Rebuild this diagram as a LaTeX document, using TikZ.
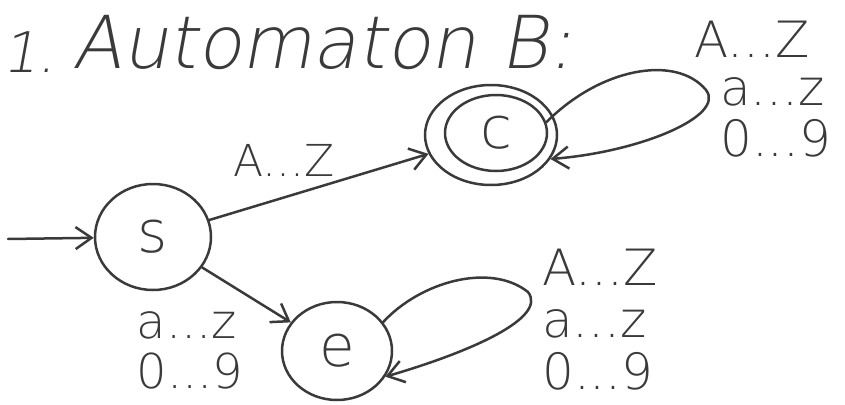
\documentclass[tikz,border=0pt]{standalone}
\usepackage{fontspec}
\newfontfamily\hand{DejaVu Sans ExtraLight}
\newfontfamily\handsl{DejaVu Sans ExtraLight}[FakeSlant=0.18]
\usetikzlibrary{arrows.meta,shapes.geometric}
\definecolor{ink}{HTML}{3A3A3A}
\tikzset{
  pen/.style={draw=ink, line width=2.5pt, line cap=round, line join=round},
  tip/.style={-{Straight Barb[length=16pt,width=22pt,line width=2.5pt]}},
  statenode/.style={pen, ellipse, inner sep=0pt, font=\hand\fontsize{58}{58}\selectfont, text=ink},
  lbl/.style={inner sep=0pt, text=ink, align=left},
  looplbl/.style={lbl, anchor=base west, font=\hand\fontsize{50}{50}\selectfont},
}
\begin{document}
\begin{tikzpicture}[x=1pt,y=-1pt]
\useasboundingbox (0,0) rectangle (845,404);
% title
\node[lbl, anchor=base west, font=\handsl\fontsize{56}{56}\selectfont] (one) at (2,72) {1.};
\node[lbl, anchor=base west, font=\handsl\fontsize{73}{73}\selectfont] (title) at (72,68) {Automaton B:};
% states
\node[statenode, minimum width=116, minimum height=106] (s) at (153,237) {s};
\node[statenode, minimum width=132, minimum height=100] (c) at (491,135) {};
\node[statenode, minimum width=102, minimum height=76] (cin) at (496,133) {c};
\node[statenode, minimum width=110, minimum height=98] (e) at (337,351) {e};
% initial
\coordinate (start) at (8,239);
\draw[pen, tip] (start) -- (s);
% transitions
\draw[pen, tip] (s) -- (c);
\draw[pen, tip] (s) -- (e);
% loops
\draw[pen, tip] (cin.12) .. controls (600,68) and (676,54) .. (706,90)
   .. controls (726,116) and (640,152) .. (c.-22);
\draw[pen, tip] (e.32) .. controls (420,282) and (490,262) .. (528,292)
   .. controls (548,318) and (470,352) .. (e.-28);
% labels
\node[lbl, font=\hand\fontsize{44}{44}\selectfont] (lsc) at (284,160) {A...Z};
\node[lbl, font=\hand\fontsize{48}{50}\selectfont] (lse) at (190,350) {a...z\\0...9};
\node[looplbl] (lcc1) at (694,58) {A...Z};
\node[looplbl] (lcc2) at (720,105) {a...z};
\node[looplbl] (lcc3) at (720,156) {0...9};
\node[lbl, anchor=west, font=\hand\fontsize{50}{52}\selectfont] (lee) at (542,320) {A...Z\\a...z\\0...9};
\end{tikzpicture}
\end{document}
